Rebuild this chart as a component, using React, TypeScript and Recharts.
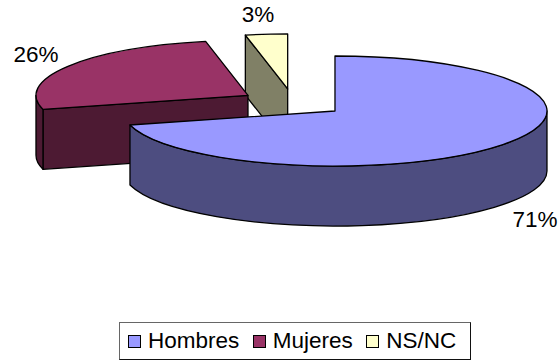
import { Cell, Legend, Pie, PieChart } from "recharts";

const names = ["NS/NC", "Mujeres", "Hombres"];
const shares = [3.2, 25.9, 70.9];
const legendOrder = ["Hombres", "Mujeres", "NS/NC"];

const topColors: Record<string, string> = {
  Hombres: "#9999ff",
  Mujeres: "#993366",
  "NS/NC": "#ffffcc"
};
const wallColors: Record<string, string> = {
  Hombres: "#4d4d80",
  Mujeres: "#4d1a33",
  "NS/NC": "#808066"
};
const labelSpots: Record<string, { x: number; y: number }> = {
  Hombres: { x: 535, y: 227 },
  Mujeres: { x: 36, y: 61.5 },
  "NS/NC": { x: 258, y: 22 }
};

const data = names.map((name, i) => ({ name, value: shares[i] }));

const SQUASH = 55 / 212;
const EXPLODE = 0.25;
const DEPTH = 60;
const RAD = Math.PI / 180;

function SliceShape(props: any) {
  const { cx, cy, outerRadius, startAngle, endAngle, fill, name } = props;
  const a0 = Math.min(startAngle, endAngle);
  const a1 = Math.max(startAngle, endAngle);
  const mid = (a0 + a1) / 2;
  const rx = outerRadius;
  const ry = outerRadius * SQUASH;
  const ax = cx + EXPLODE * rx * Math.cos(mid * RAD);
  const ay = cy - EXPLODE * ry * Math.sin(mid * RAD);
  const pt = (deg: number) => [ax + rx * Math.cos(deg * RAD), ay - ry * Math.sin(deg * RAD)];
  const wall = wallColors[name];
  const line = { stroke: "#000", strokeWidth: 1.3, strokeLinejoin: "round" as const };

  // radial faces that look toward the viewer
  const faces = [a0, a1].filter((deg) => {
    const [px, py] = pt(deg);
    const ex = px - ax;
    const ey = py - ay;
    const mx = Math.cos(mid * RAD) * rx;
    const my = -Math.sin(mid * RAD) * ry;
    let nx = -ey;
    let ny = ex;
    if (nx * mx + ny * my > 0) {
      nx = -nx;
      ny = -ny;
    }
    return ny > 0.01;
  });

  // rim wall, only the front half of the ellipse
  const w0 = Math.max(a0, 180);
  const w1 = Math.min(a1, 360);
  let rim = "";
  if (w1 > w0) {
    const [x0, y0] = pt(w0);
    const [x1, y1] = pt(w1);
    rim = `M${x0},${y0} A${rx},${ry} 0 0 0 ${x1},${y1} L${x1},${y1 + DEPTH} A${rx},${ry} 0 0 1 ${x0},${y0 + DEPTH} Z`;
  }

  const [sx, sy] = pt(a0);
  const [ex, ey] = pt(a1);
  const large = a1 - a0 > 180 ? 1 : 0;
  const top = `M${ax},${ay} L${sx},${sy} A${rx},${ry} 0 ${large} 0 ${ex},${ey} Z`;

  return (
    <g>
      {faces.map((deg) => {
        const [px, py] = pt(deg);
        return (
          <path
            key={deg}
            d={`M${ax},${ay} L${px},${py} L${px},${py + DEPTH} L${ax},${ay + DEPTH} Z`}
            fill={wall}
            {...line}
          />
        );
      })}
      {rim && <path d={rim} fill={wall} {...line} />}
      <path d={top} fill={fill} {...line} />
    </g>
  );
}

function renderLabel(props: any) {
  const spot = labelSpots[props.name];
  return (
    <text
      x={spot.x}
      y={spot.y}
      textAnchor="middle"
      fontFamily="Liberation Sans"
      fontSize={22.5}
      fill="#000"
    >
      {`${Math.round(props.percent * 100)}%`}
    </text>
  );
}

function LegendBox() {
  return (
    <div
      style={{
        display: "flex",
        alignItems: "center",
        boxSizing: "border-box",
        width: 352,
        height: 38,
        paddingLeft: 8,
        borderStyle: "solid",
        borderWidth: 1,
        borderColor: "#666 #111 #111 #666",
        fontFamily: "Liberation Sans",
        fontSize: 22.5,
        color: "#000",
        background: "#fff"
      }}
    >
      {legendOrder.map((name) => (
        <span key={name} style={{ display: "flex", alignItems: "center", marginRight: 13.5 }}>
          <span
            style={{
              width: 11,
              height: 11,
              border: "1.5px solid #000",
              background: topColors[name],
              marginRight: 7
            }}
          />
          {name}
        </span>
      ))}
    </div>
  );
}

export default function App() {
  return (
    <div style={{ position: "absolute", left: 0, top: 0, width: 560, height: 361 }}>
      <PieChart width={560} height={361} margin={{ top: 0, right: 0, bottom: 0, left: 0 }}>
        <Pie
          data={data}
          dataKey="value"
          nameKey="name"
          cx={293}
          cy={102.6}
          outerRadius={212}
          startAngle={90}
          endAngle={450}
          paddingAngle={0}
          isAnimationActive={false}
          shape={SliceShape}
          label={renderLabel}
          labelLine={false}
        >
          {data.map((d) => (
            <Cell key={d.name} fill={topColors[d.name]} />
          ))}
        </Pie>
        <Legend
          content={LegendBox}
          wrapperStyle={{ left: 119, top: 322, width: 352, bottom: "auto", right: "auto" }}
        />
      </PieChart>
    </div>
  );
}
